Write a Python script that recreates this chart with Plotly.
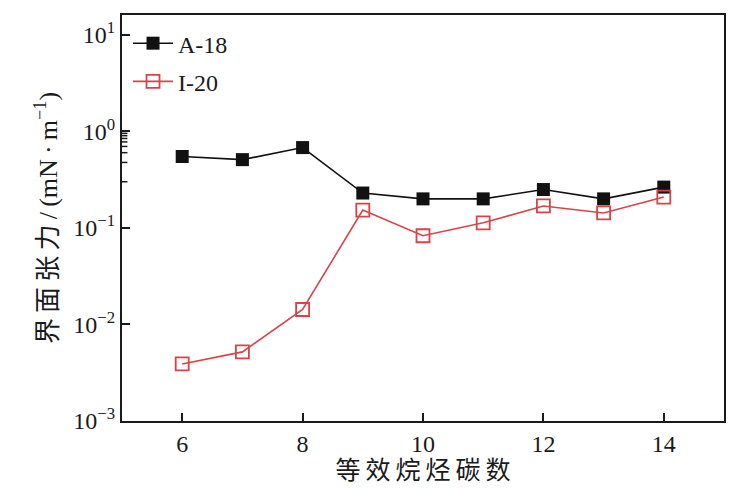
import math
import plotly.graph_objects as go

# 等效烷烃碳数
carbon = [6, 7, 8, 9, 10, 11, 12, 13, 14]
# 界面张力 (mN/m)
a18 = [0.55, 0.51, 0.68, 0.23, 0.20, 0.20, 0.25, 0.20, 0.265]
i20 = [0.0039, 0.0052, 0.0143, 0.153, 0.083, 0.113, 0.169, 0.143, 0.209]

ytick_vals = [1e-3, 1e-2, 1e-1, 1e0, 1e1]
ytick_text = ['10<sup>−3</sup>', '10<sup>−2</sup>', '10<sup>−1</sup>', '10<sup>0</sup>', '10<sup>1</sup>']
minor_vals = [m * d for d in ytick_vals for m in range(2, 10)]

serif = 'Liberation Serif, Noto Sans CJK SC'
ts = '\u2009'  # thin space, the titles are letter-spaced in the original
yrange = [-3, 1.206]

fig = go.Figure()
fig.add_trace(go.Scatter(
	x = carbon, y = a18, name = 'A-18', mode = 'lines+markers', legendgroup = 'a',
	line = dict(color = '#111111', width = 1.6),
	marker = dict(symbol = 'square', size = 13, color = '#111111'),
))
fig.add_trace(go.Scatter(
	x = carbon, y = i20, name = 'I-20', mode = 'lines+markers', legendgroup = 'i',
	line = dict(color = '#d8434a', width = 1.6),
	marker = dict(symbol = 'square-open', size = 13, color = '#d8434a', line = dict(width = 1.8)),
))

# minor ticks on the log axis (shapes take log10 values on log axes)
for v in minor_vals:
	lv = math.log10(v)
	if yrange[0] < lv < yrange[1]:
		fig.add_shape(type = 'line', xref = 'x domain', yref = 'y',
			x0 = 0, x1 = 0.009, y0 = lv, y1 = lv,
			line = dict(color = '#1a1a1a', width = 1.5))

# the page has an 8px body margin, so margins are shifted by it
fig.update_layout(
	width = 745, height = 489,
	margin = dict(l = 114, r = 29, t = 5, b = 76),
	paper_bgcolor = 'white', plot_bgcolor = 'white',
	font = dict(family = serif, size = 24, color = '#1a1a1a'),
	showlegend = True,
	legend = dict(
		x = 0.01, y = 0.985, xanchor = 'left', yanchor = 'top',
		bgcolor = 'rgba(0,0,0,0)', font = dict(size = 24),
		itemwidth = 40, tracegroupgap = 4,
	),
	xaxis = dict(
		range = [5, 15], tickvals = [6, 8, 10, 12, 14],
		ticks = 'inside', ticklen = 8, tickwidth = 1.6, tickcolor = '#1a1a1a',
		showline = True, linecolor = '#1a1a1a', linewidth = 2, mirror = True,
		showgrid = False, zeroline = False,
		title = dict(text = ts.join('等效烷烃碳数'), font = dict(size = 25), standoff = 0),
	),
	yaxis = dict(
		type = 'log', range = yrange,
		tickvals = ytick_vals, ticktext = ytick_text,
		ticks = 'inside', ticklen = 8, tickwidth = 1.6, tickcolor = '#1a1a1a',
		showline = True, linecolor = '#1a1a1a', linewidth = 2, mirror = True,
		showgrid = False, zeroline = False,
		title = dict(text = ts.join('界面张力') + ts + '/' + ts + '(mN' + ts + '·' + ts + 'm<sup>−1</sup>)',
			font = dict(size = 26), standoff = 8),
	),
)

fig.write_html('out.html')
